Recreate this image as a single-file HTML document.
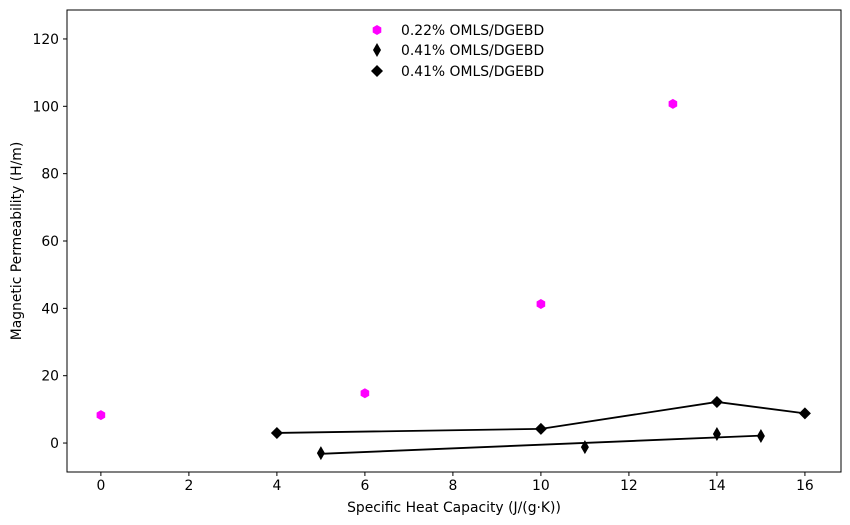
<!DOCTYPE html>
<html><head><meta charset="utf-8"><style>
body{margin:0;background:#fff;}
svg{display:block;font-family:"DejaVu Sans","Liberation Sans",sans-serif;}
</style></head><body>
<svg id="chart" width="850" height="525" xmlns="http://www.w3.org/2000/svg"></svg>
<script>
const xTicks=[0,2,4,6,8,10,12,14,16];
const yTicks=[0,20,40,60,80,100,120];
const magX=[0,6,10,13];
const magY=[8.3,14.8,41.3,100.7];
const thinX=[5,11,14,15];
const thinY=[-3.0,-1.2,2.7,2.1];
const lineX=[5,15];
const lineY=[-3.2,2.2];
const bigX=[4,10,14,16];
const bigY=[3.0,4.2,12.2,8.8];
const legendLabels=["0.22% OMLS/DGEBD","0.41% OMLS/DGEBD","0.41% OMLS/DGEBD"];

const L=67,R=841,T=10,B=472;
const xmin=-0.77,xmax=16.82,ymin=-8.6,ymax=128.6;
const sx=v=>L+(v-xmin)/(xmax-xmin)*(R-L);
const sy=v=>B-(v-ymin)/(ymax-ymin)*(B-T);
const NS="http://www.w3.org/2000/svg";
const svg=document.getElementById('chart');
const FS=13.9;
function mk(tag,attrs,parent){const e=document.createElementNS(NS,tag);for(const k in attrs)e.setAttribute(k,attrs[k]);(parent||svg).appendChild(e);return e;}

const frame=mk('rect',{x:L,y:T,width:R-L,height:B-T,fill:'none',stroke:'#000','stroke-width':1});



xTicks.forEach(v=>{
  const x=sx(v);
  const t=mk('line',{x1:x,x2:x,y1:B,y2:B+4,stroke:'#000'});
  
  
  const tx=mk('text',{x:x,y:B+18,'text-anchor':'middle','font-size':FS,fill:'#000'});
  tx.textContent=v;
  
  
});
yTicks.forEach(v=>{
  const y=sy(v);
  const t=mk('line',{x1:L-4,x2:L,y1:y,y2:y,stroke:'#000'});
  
  
  const tx=mk('text',{x:L-8,y:y+5,'text-anchor':'end','font-size':FS,fill:'#000'});
  tx.textContent=v;
  
  
});
const xl=mk('text',{x:(L+R)/2,y:512,'text-anchor':'middle','font-size':FS});
xl.textContent='Specific Heat Capacity (J/(g·K))';


const yl=mk('text',{x:0,y:0,'text-anchor':'middle','font-size':FS,transform:`translate(21,${(T+B)/2}) rotate(-90)`});
yl.textContent='Magnetic Permeability (H/m)';



function hex(cx,cy,r,fill,parent){
  let p=[];for(let i=0;i<6;i++){const a=Math.PI/6+i*Math.PI/3;p.push((cx+r*Math.cos(a)).toFixed(1)+','+(cy+r*Math.sin(a)).toFixed(1));}
  return mk('polygon',{points:p.join(' '),fill:fill},parent);
}
function dia(cx,cy,w,h,parent){
  return mk('polygon',{points:`${cx},${cy-h} ${cx+w},${cy} ${cx},${cy+h} ${cx-w},${cy}`,fill:'#000'},parent);
}

const pl1=mk('polyline',{points:lineX.map((x,i)=>sx(x)+','+sy(lineY[i])).join(' '),fill:'none',stroke:'#000','stroke-width':1.8});


const pl2=mk('polyline',{points:bigX.map((x,i)=>sx(x)+','+sy(bigY[i])).join(' '),fill:'none',stroke:'#000','stroke-width':1.8});



magX.forEach((x,i)=>{
  const m=hex(sx(x),sy(magY[i]),5,'#ff00ff');
  
  
});
thinX.forEach((x,i)=>{
  const m=dia(sx(x),sy(thinY[i]),4,7);
  
  
});
bigX.forEach((x,i)=>{
  const m=dia(sx(x),sy(bigY[i]),6,6);
  
  
});

const lg=mk('g',{});


const ly=[30,50,71];
const h0=hex(377,ly[0],5,'#ff00ff',lg);


const d1=dia(377,ly[1],4,7,lg);


const d2=dia(377,ly[2],6,6,lg);


legendLabels.forEach((s,i)=>{
  const t=mk('text',{x:401,y:ly[i]+5,'font-size':FS},lg);
  t.textContent=s;
  
  
});
</script>
</body></html>
